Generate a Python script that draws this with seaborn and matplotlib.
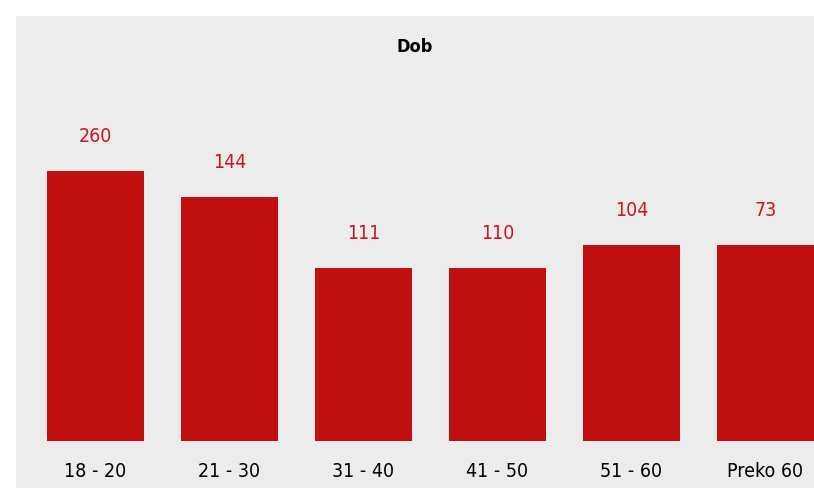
import matplotlib
matplotlib.use("Agg")
import matplotlib.pyplot as plt
import seaborn as sns
import pandas as pd
from matplotlib.patches import Rectangle

# Categories, printed counts and drawn bar heights (the bars in the original are not to scale)
categories = ["18 - 20", "21 - 30", "31 - 40", "41 - 50", "51 - 60", "Preko 60"]
counts = [260, 144, 111, 110, 104, 73]
bar_heights = [270, 244, 173, 173, 196, 196]

plt.rcParams["font.family"] = ["DejaVu Sans"]
plt.rcParams["font.stretch"] = "condensed"

df = pd.DataFrame({"dob": categories, "visina": bar_heights, "broj": counts})

W, H = 814, 492
fig = plt.figure(figsize=(W / 100, H / 100), dpi=100)
fig.patch.set_facecolor("white")
# grey panel behind the chart
fig.patches.append(Rectangle((16 / W, 4 / H), 1, (488 - 16) / H, transform=fig.transFigure,
                             facecolor="#ececec", edgecolor="none", zorder=-1))

ax = fig.add_axes([16 / W, (H - 441) / H, (W - 16) / W, (441 - 16) / H])
ax.set_zorder(2)
ax.patch.set_alpha(0)

sns.barplot(data=df, x="dob", y="visina", color="#bf0f0f", saturation=1, width=0.724, ax=ax)
ax.set_xlim(-0.593, 5.362)
ax.set_ylim(0, 425)

for i, (h, c) in enumerate(zip(bar_heights, counts)):
    ax.text(i, h + 35, str(c), ha="center", va="center", color="#c8161d", fontsize=14,
            fontstretch="condensed")

ax.text(0.5, (441 - 47) / (441 - 16), "Dob", transform=ax.transAxes, ha="center", va="center",
        fontsize=13, fontweight="bold", color="black", fontstretch="condensed")

ax.set_xlabel("")
ax.set_ylabel("")
ax.set_yticks([])
ax.tick_params(axis="x", length=0, pad=15, labelsize=14, labelcolor="black")
for lbl in ax.get_xticklabels():
    lbl.set_fontstretch("condensed")
for s in ax.spines.values():
    s.set_visible(False)

fig.savefig("out.png", dpi=100)
